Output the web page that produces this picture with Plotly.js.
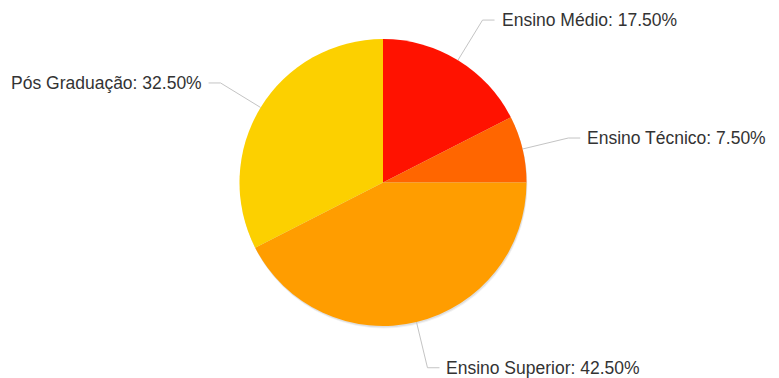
<!DOCTYPE html>
<html>
<head>
<meta charset="utf-8">
<script src="https://cdn.plot.ly/plotly-3.0.1.min.js"></script>
<style>html,body{margin:0;padding:0;background:#fff;}#chart{width:779px;height:378px;}</style>
</head>
<body>
<div id="chart"></div>
<script>
// Data
const categories = ["Ensino Médio", "Ensino Técnico", "Ensino Superior", "Pós Graduação"];
const values = [17.5, 7.5, 42.5, 32.5];
const colors = ["#FF1200", "#FF6600", "#FF9D00", "#FCD000"];

// Layout geometry (pixels)
const W = 779, H = 378;
const cx = 383, cy = 182.5, R = 143.5;
const elbowR = R + 47, horiz = 12, gap = 5;

const total = values.reduce((a, b) => a + b, 0);
const px = x => x / W, py = y => 1 - y / H;

const shapes = [];
const annotations = [];
// soft shadow under the pie
[[2.5, 0.05], [1.5, 0.08]].forEach(([o, a]) => {
  shapes.push({
    type: 'circle', xref: 'paper', yref: 'paper', layer: 'below',
    x0: px(cx - R + o * 0.4), x1: px(cx + R + o * 0.4),
    y0: py(cy - R + o), y1: py(cy + R + o),
    fillcolor: `rgba(0,0,0,${a})`, line: {width: 0}
  });
});

let cum = 0;
values.forEach((v, i) => {
  const mid = (cum + v / 2) / total * 2 * Math.PI;
  cum += v;
  const s = Math.sin(mid), c = Math.cos(mid);
  const x0 = cx + R * s, y0 = cy - R * c;
  const x1 = cx + elbowR * s, y1 = cy - elbowR * c;
  const right = s >= 0;
  const x2 = x1 + (right ? horiz : -horiz);
  shapes.push({
    type: 'path', xref: 'paper', yref: 'paper',
    path: `M ${px(x0)} ${py(y0)} L ${px(x1)} ${py(y1)} L ${px(x2)} ${py(y1)}`,
    line: {color: '#c4c4c4', width: 1}
  });
  annotations.push({
    xref: 'paper', yref: 'paper', x: px(x2 + (right ? gap : -gap)), y: py(y1),
    xanchor: right ? 'left' : 'right', yanchor: 'middle', showarrow: false,
    text: `${categories[i]}: ${v.toFixed(2)}%`,
    font: {family: 'Liberation Sans, Arial, Helvetica, sans-serif', size: 17.5, color: '#333333'}
  });
});

const trace = {
  type: 'pie',
  labels: categories,
  values: values,
  sort: false,
  direction: 'clockwise',
  rotation: 0,
  marker: {colors: colors, line: {width: 0}},
  textinfo: 'none',
  hoverinfo: 'label+percent',
  showlegend: false,
  domain: {x: [(cx - R) / W, (cx + R) / W], y: [1 - (cy + R) / H, 1 - (cy - R) / H]}
};

Plotly.newPlot('chart', [trace], {
  width: W, height: H,
  margin: {l: 0, r: 0, t: 0, b: 0},
  paper_bgcolor: '#ffffff',
  showlegend: false,
  shapes: shapes,
  annotations: annotations
}, {displayModeBar: false, staticPlot: true});
</script>
</body>
</html>
